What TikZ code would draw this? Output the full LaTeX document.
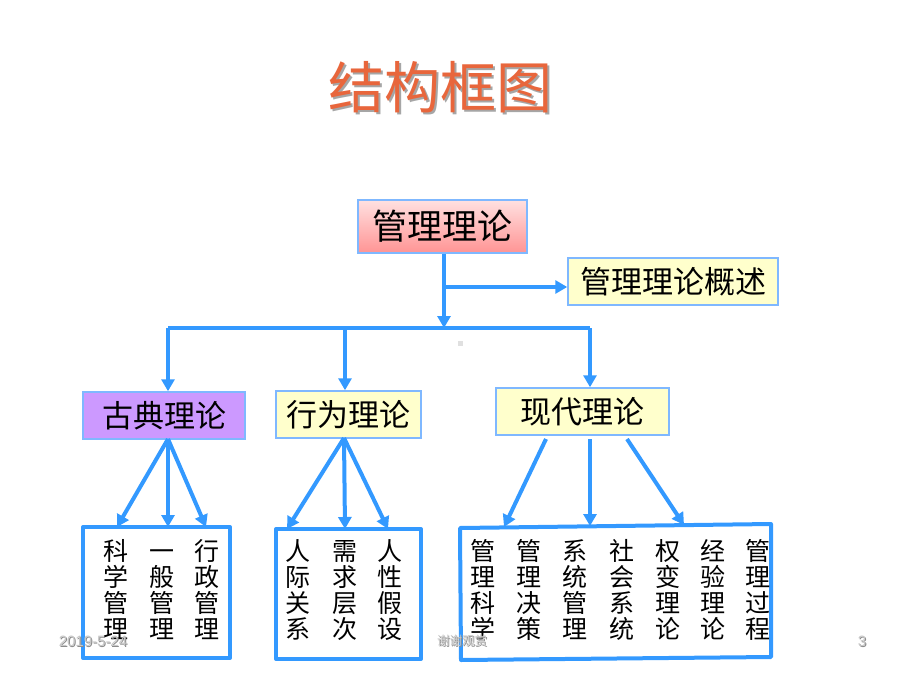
\documentclass[tikz,border=0pt]{standalone}
\usepackage{fontspec}
\setmainfont{Liberation Sans}
\newfontfamily\cjk{Noto Sans CJK SC}
\usetikzlibrary{arrows.meta}
\definecolor{lblue}{HTML}{3399FF}
\definecolor{bordb}{HTML}{7FB8FF}
\definecolor{ttl}{HTML}{E8663C}
\definecolor{pale}{HTML}{FFFFCC}
\definecolor{purp}{HTML}{CC99FF}
\newcommand{\fullh}{\vphantom{管}}
\tikzset{
  topbox/.style={draw=bordb, line width=1.5pt, inner sep=0pt, font=\cjk\fontsize{31}{34}\selectfont},
  arr/.style={draw=lblue, line width=4pt, -{Triangle[length=12pt,width=13pt]}},
  ln/.style={draw=lblue, line width=4pt},
  bframe/.style={draw=lblue, line width=4pt, line join=round},
  col/.style={align=center, inner sep=0pt, font=\cjk\fontsize{25}{26.3}\selectfont},
  foot/.style={text=black!22, inner sep=0pt},
  footsh/.style={text=black!45, inner sep=0pt},
}
\begin{document}
\begin{tikzpicture}[x=1pt,y=-1pt]
\useasboundingbox (0,0) rectangle (920,690);
% title
\node[text=black!35, font=\cjk\fontsize{56}{60}\selectfont] (titlesh) at (442.5,89.5) {结构框图};
\node[text=ttl, font=\cjk\fontsize{56}{60}\selectfont] (title) at (440,87) {结构框图};
% boxes
\node[topbox, top color=red!12, bottom color=red!42, minimum width=169, minimum height=53, font=\cjk\fontsize{35}{38}\selectfont] (root) at (442.5,226.5) {管理理论};
\node[topbox, fill=pale, minimum width=210, minimum height=47] (ov) at (673,281.5) {管理理论概述};
\node[topbox, fill=purp, minimum width=162, minimum height=47] (gd) at (164,415.5) {古典理论};
\node[topbox, fill=pale, minimum width=145, minimum height=47] (xw) at (348.5,414.5) {行为理论};
\node[topbox, fill=pale, minimum width=173, minimum height=47] (xd) at (582.5,411.5) {现代理论};
% hub coordinates
\coordinate (br) at (444,287);
\coordinate (hub) at (444,328);
\coordinate (hl) at (168,328);
\coordinate (hm) at (345,328);
\coordinate (hr) at (590,328);
\draw[ln] (hl) -- (hr);
\draw[arr] (root.south -| hub) -- (hub);
\draw[arr] (br) -- (br -| ov.west);
\draw[arr] (hl) -- (hl |- gd.north);
\draw[arr] (hm) -- (hm |- xw.north);
\draw[arr] (hr) -- (hr |- xd.north);
% bottom frames
\coordinate (a1) at (83,527); \coordinate (a2) at (230,527); \coordinate (a3) at (230,658); \coordinate (a4) at (83,658);
\draw[bframe] (a1) -- (a2) -- (a3) -- (a4) -- cycle;
\coordinate (b1) at (276,529); \coordinate (b2) at (421,529); \coordinate (b3) at (421,659); \coordinate (b4) at (276,659);
\draw[bframe] (b1) -- (b2) -- (b3) -- (b4) -- cycle;
\coordinate (c1) at (460,528); \coordinate (c2) at (771,524); \coordinate (c3) at (771,657); \coordinate (c4) at (461,660);
\draw[bframe] (c1) -- (c2) -- (c3) -- (c4) -- cycle;
% fan arrows
\coordinate (g0) at (168,439);
\coordinate (t11) at (117,527); \coordinate (t12) at (168,527); \coordinate (t13) at (206,527);
\draw[arr] (g0) -- (t11);
\draw[arr] (g0) -- (t12);
\draw[arr] (g0) -- (t13);
\coordinate (x0) at (344,438);
\coordinate (t21) at (287,529); \coordinate (t22) at (345,529); \coordinate (t23) at (388,529);
\draw[arr] (x0) -- (t21);
\draw[arr] (x0) -- (t22);
\draw[arr] (x0) -- (t23);
\coordinate (s31) at (546,439); \coordinate (s32) at (590,439); \coordinate (s33) at (627,439);
\coordinate (t31) at (504,527); \coordinate (t32) at (590,526); \coordinate (t33) at (684,525);
\draw[arr] (s31) -- (t31);
\draw[arr] (s32) -- (t32);
\draw[arr] (s33) -- (t33);
% column texts
\node[col] (k1) at (116,590) {\fullh 科\\学\\管\\理\fullh};
\node[col] (k2) at (162,590) {\fullh 一\\般\\管\\理\fullh};
\node[col] (k3) at (207,590) {\fullh 行\\政\\管\\理\fullh};
\node[col] (r1) at (298,590) {\fullh 人\\际\\关\\系\fullh};
\node[col] (r2) at (345,590) {\fullh 需\\求\\层\\次\fullh};
\node[col] (r3) at (390,590) {\fullh 人\\性\\假\\设\fullh};
\node[col] (m1) at (483,590) {\fullh 管\\理\\科\\学\fullh};
\node[col] (m2) at (529,590) {\fullh 管\\理\\决\\策\fullh};
\node[col] (m3) at (575,590) {\fullh 系\\统\\管\\理\fullh};
\node[col] (m4) at (622,590) {\fullh 社\\会\\系\\统\fullh};
\node[col] (m5) at (668,590) {\fullh 权\\变\\理\\论\fullh};
\node[col] (m6) at (713,590) {\fullh 经\\验\\理\\论\fullh};
\node[col] (m7) at (758,590) {\fullh 管\\理\\过\\程\fullh};
% small mark
\node[fill=black!12, minimum size=5pt, inner sep=0pt] (dot) at (460,343) {};
% footer
\node[footsh, font=\fontsize{15}{15}\selectfont] (datesh) at (94,642) {2019-5-24};
\node[foot, font=\fontsize{15}{15}\selectfont] (date) at (93,641) {2019-5-24};
\node[footsh, font=\cjk\fontsize{12.5}{13}\selectfont] (thsh) at (463,642) {谢谢观赏};
\node[foot, font=\cjk\fontsize{12.5}{13}\selectfont] (th) at (462,641) {谢谢观赏};
\node[footsh, font=\fontsize{15}{15}\selectfont] (pgsh) at (863,642) {3};
\node[foot, font=\fontsize{15}{15}\selectfont] (pg) at (862,641) {3};
\end{tikzpicture}
\end{document}
